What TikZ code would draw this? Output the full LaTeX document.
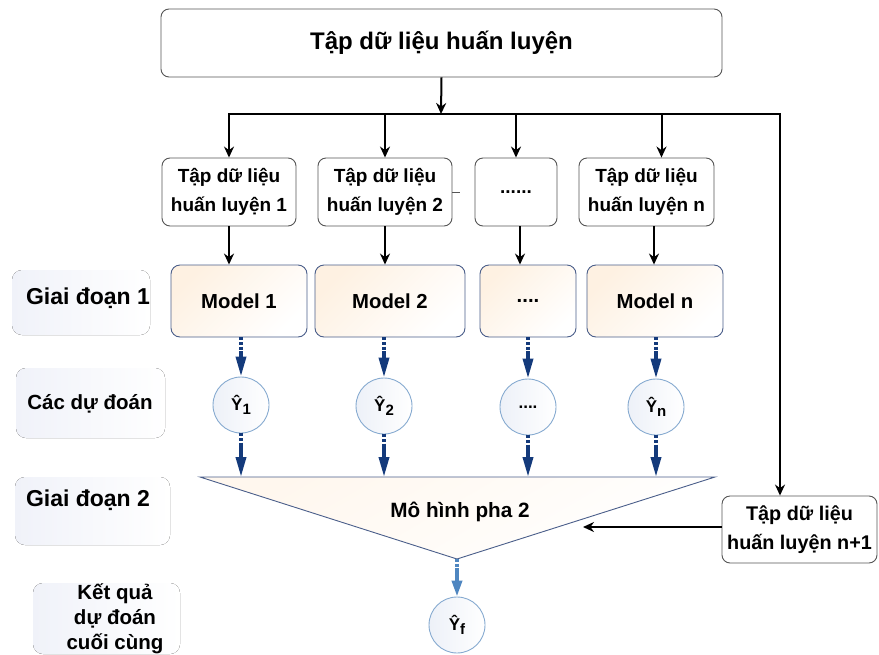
\documentclass[tikz,border=0pt]{standalone}
\usepackage{fontspec}
\setmainfont{Liberation Sans}
\usetikzlibrary{arrows.meta,calc}
\definecolor{navy}{HTML}{143A7B}
\definecolor{lightnavy}{HTML}{4F86C0}
\definecolor{boxgray}{HTML}{555555}
\definecolor{modelborder}{HTML}{4A5E8A}
\definecolor{peach}{HTML}{FEF1E2}
\definecolor{circborder}{HTML}{86AAD0}
\definecolor{circfill}{HTML}{EDF1F8}
\definecolor{trifill}{HTML}{FFF7EE}
\definecolor{labelbg}{HTML}{F0F2F9}
\newcommand{\yhat}[1]{Ŷ\raisebox{-4pt}{\fontsize{15}{15}\selectfont #1}}
\begin{document}
\begin{tikzpicture}[x=1pt,y=-1pt,
  databox/.style={draw=boxgray, line width=0.9pt, rounded corners=8pt, fill=white,
    align=center, inner sep=0pt, minimum height=68pt,
    font=\fontsize{19}{28.5}\selectfont\bfseries},
  modelbox/.style={draw=modelborder, line width=0.9pt, rounded corners=9pt,
    left color=peach, right color=white, shading angle=45,
    inner sep=0pt, minimum height=72pt, font=\fontsize{20.3}{24}\selectfont\bfseries},
  predcirc/.style={circle, draw=circborder, line width=0.9pt, left color=circfill, right color=white,
    minimum size=56pt, inner sep=0pt, font=\fontsize{17}{19}\selectfont\bfseries},
  sidebg/.style={rounded corners=10pt, left color=labelbg, right color=white, draw=none},
  sidelabel/.style={align=center, inner sep=0pt},
  blk/.style={line width=2pt, black},
  blkarrow/.style={blk, -{Stealth[length=11pt,width=10pt]}},
  navyarrow/.style={line width=3.6pt, navy, dash pattern=on 3pt off 1.6pt on 3pt off 1.6pt on 3pt off 1.6pt on 200pt off 1pt,
    -{Triangle[length=20pt,width=10pt]}},
  navyarrowB/.style={line width=3.6pt, navy, dash pattern=on 3pt off 1.6pt on 3pt off 1.6pt on 200pt off 1pt,
    -{Triangle[length=20pt,width=10pt]}},
  lightarrow/.style={line width=3.6pt, lightnavy, dash pattern=on 3pt off 1.6pt on 3pt off 1.6pt on 200pt off 1pt,
    -{Triangle[length=16pt,width=10pt]}}
]
\useasboundingbox (0,0) rectangle (879,654);

% left side labels with faint backgrounds
\fill[sidebg] (12,270) rectangle (150,335);
\fill[sidebg] (16,368) rectangle (165,438);
\fill[sidebg] (15,477) rectangle (170,545);
\fill[sidebg] (33,583) rectangle (180,654);
\node[sidelabel, font=\fontsize{23}{26}\selectfont\bfseries] (g1) at (88,298) {Giai đoạn 1};
\node[sidelabel, font=\fontsize{20.5}{23}\selectfont\bfseries] (cdd) at (90,404) {Các dự đoán};
\node[sidelabel, font=\fontsize{23}{26}\selectfont\bfseries] (g2) at (88,500) {Giai đoạn 2};
\node[sidelabel, font=\fontsize{20.5}{25}\selectfont\bfseries] (kq) at (115,619) {Kết quả\\dự đoán\\cuối cùng};

% top box
\node[databox, minimum width=561pt, font=\fontsize{24}{28}\selectfont\bfseries] (top) at (441.5,43) {Tập dữ liệu huấn luyện};

% data boxes
\node[databox, minimum width=134pt] (d1) at (229,192) {Tập dữ liệu\\huấn luyện 1};
\node[databox, minimum width=134pt] (d2) at (385,192) {Tập dữ liệu\\huấn luyện 2};
\node[databox, minimum width=82pt] (d3) at (516,192) {......};
\node[databox, minimum width=135pt] (d4) at (646.5,192) {Tập dữ liệu\\huấn luyện n};
\draw[boxgray, line width=0.7pt] (d2.east) -- ++(8,0);

% model boxes
\node[modelbox, minimum width=136pt] (m1) at (239,301) {Model 1};
\node[modelbox, minimum width=150pt] (m2) at (390,301) {Model 2};
\node[modelbox, minimum width=96pt] (m3) at (528,301) {....};
\node[modelbox, minimum width=136pt] (m4) at (655,301) {Model n};

% prediction circles
\node[predcirc] (y1) at (241,405) {\yhat{1}};
\node[predcirc] (y2) at (384,406) {\yhat{2}};
\node[predcirc] (y3) at (528,407) {....};
\node[predcirc] (y4) at (656,407) {\yhat{n}};

% phase-2 triangle
\coordinate (triL) at (200,477);
\coordinate (triR) at (715,477);
\coordinate (apex) at (457,559);
\coordinate (tritop) at (457,477);
\shade[left color=trifill, right color=white, shading angle=30] (triL) -- (triR) -- (apex) -- cycle;
\draw[modelborder, line width=0.9pt, line join=miter] (triL) -- (triR) -- (apex) -- cycle;
\node[font=\fontsize{20.7}{24}\selectfont\bfseries] (mh) at (460,512) {Mô hình pha 2};

% n+1 box
\node[databox, minimum width=155pt, minimum height=67pt, font=\fontsize{19.8}{29}\selectfont\bfseries] (d5) at (799.5,529.5) {Tập dữ liệu\\huấn luyện n+1};

% final prediction
\node[predcirc] (yf) at (457,625) {\yhat{f}};

% bus
\coordinate (bus) at (441,114);
\coordinate (busL) at (229,114);
\coordinate (busR) at (780,114);
\coordinate (triIn) at (583,527);
\draw[blkarrow] (top.south) -- (bus);
\draw[blk, line cap=rect] (busL) -- (busR);
\draw[blkarrow] (busR) -- (busR |- d5.north);
\draw[blkarrow] (busL) -- (d1.north);
\draw[blkarrow] (bus -| d2.north) -- (d2.north);
\draw[blkarrow] (bus -| d3.north) -- (d3.north);
\draw[blkarrow] ($(bus -| d4.north)+(15,0)$) -- ($(d4.north)+(15,0)$);

% data -> models
\draw[blkarrow] (d1.south) -- (d1.south |- m1.north);
\draw[blkarrow] (d2.south) -- (d2.south |- m2.north);
\draw[blkarrow] ($(d3.south)+(4,0)$) -- ($(d3.south |- m3.north)+(4,0)$);
\draw[blkarrow] ($(d4.south)+(7.5,0)$) -- ($(d4.south |- m4.north)+(7.5,0)$);

% models -> circles
\draw[navyarrow] (y1.north |- m1.south) -- (y1.north);
\draw[navyarrow] (y2.north |- m2.south) -- (y2.north);
\draw[navyarrow] (y3.north |- m3.south) -- (y3.north);
\draw[navyarrow] (y4.north |- m4.south) -- (y4.north);

% circles -> triangle
\draw[navyarrowB] (y1.south) -- (y1.south |- tritop);
\draw[navyarrowB] (y2.south) -- (y2.south |- tritop);
\draw[navyarrowB] (y3.south) -- (y3.south |- tritop);
\draw[navyarrowB] (y4.south) -- (y4.south |- tritop);

% n+1 -> triangle
\draw[blkarrow] (d5.west |- triIn) -- (triIn);

% triangle -> final
\draw[lightarrow] (apex) -- (yf.north);
\end{tikzpicture}
\end{document}
